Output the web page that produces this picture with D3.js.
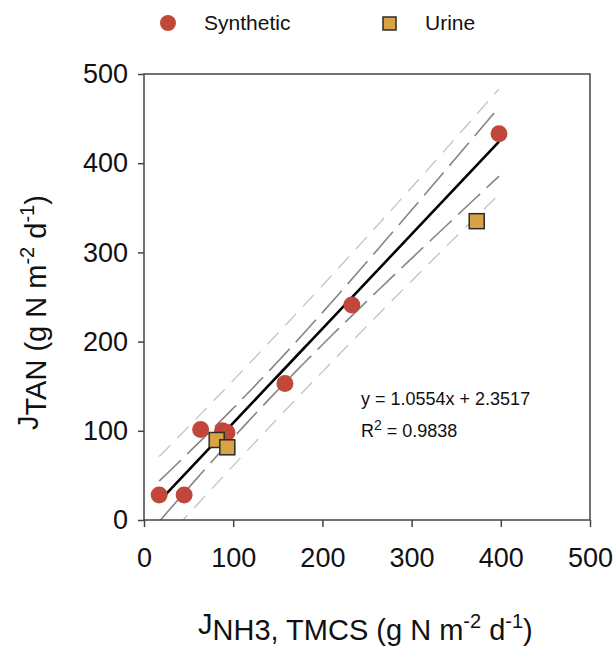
<!DOCTYPE html>
<html>
<head>
<meta charset="utf-8">
<script src="https://cdn.jsdelivr.net/npm/d3@7"></script>
<style>
body { margin: 0; background: #fff; }
text { font-family: "Liberation Sans", Arial, sans-serif; fill: #111; }
</style>
</head>
<body>
<svg id="chart" width="614" height="647"></svg>
<script>
// points
var synX = [17, 45, 63.5, 88, 93, 158, 233, 398]
var synY = [28, 28, 101.5, 100, 98, 153, 241, 433]
var urineX = [81.5, 93.4, 373]
var urineY = [89.7, 81.5, 335]
var tickVals = [0, 100, 200, 300, 400, 500]
var legendNames = ["Synthetic", "Urine"]
var eqLine = "y = 1.0554x + 2.3517"
var r2Value = "0.9838"

// two-sided 95% t values by degrees of freedom
var tTable = {4: 2.776, 5: 2.571, 6: 2.447, 7: 2.365, 8: 2.306, 9: 2.262}

var svg = d3.select("#chart")
var x = d3.scaleLinear().domain([0, 500]).range([144, 590])
var y = d3.scaleLinear().domain([0, 500]).range([520, 74])

// regression on synthetic points only
var n = synX.length
var mx = d3.mean(synX), my = d3.mean(synY)
var sxx = d3.sum(synX, function(v){ return (v - mx) * (v - mx) })
var sxy = d3.sum(synX, function(v, i){ return (v - mx) * (synY[i] - my) })
var slope = sxy / sxx
var icpt = my - slope * mx
var sse = d3.sum(synX, function(v, i){ var r = synY[i] - (icpt + slope * v); return r * r })
var s = Math.sqrt(sse / (n - 2))
var tv = tTable[n - 2]
var x0 = d3.min(synX), x1 = d3.max(synX)

var bandPts = d3.range(0, 41).map(function(k){
	var xv = x0 + (x1 - x0) * k / 40
	var fit = icpt + slope * xv
	var se = Math.sqrt(1 / n + (xv - mx) * (xv - mx) / sxx)
	var sp = Math.sqrt(1 + 1 / n + (xv - mx) * (xv - mx) / sxx)
	return {x: xv, fit: fit, cl: fit - tv * s * se, cu: fit + tv * s * se, pl: fit - tv * s * sp, pu: fit + tv * s * sp}
})

svg.append("clipPath").attr("id", "plotclip")
	.append("rect").attr("x", 144).attr("y", 74).attr("width", 446).attr("height", 446)

var plot = svg.append("g").attr("clip-path", "url(#plotclip)")

function bandLine(key){
	return d3.line().x(function(d){ return x(d.x) }).y(function(d){ return y(d[key]) })
}

plot.selectAll(".pred").data(["pl", "pu"]).enter().append("path")
	.attr("d", function(k){ return bandLine(k)(bandPts) })
	.attr("fill", "none").attr("stroke", "#c4c4c4").attr("stroke-width", 1.3)
	.attr("stroke-dasharray", "16,10")

plot.selectAll(".conf").data(["cl", "cu"]).enter().append("path")
	.attr("d", function(k){ return bandLine(k)(bandPts) })
	.attr("fill", "none").attr("stroke", "#858585").attr("stroke-width", 1.6)
	.attr("stroke-dasharray", "30,9")

plot.append("path")
	.attr("d", bandLine("fit")(bandPts))
	.attr("fill", "none").attr("stroke", "#000").attr("stroke-width", 2.6)

// frame and axes
svg.append("rect").attr("x", 144).attr("y", 74).attr("width", 446).attr("height", 446)
	.attr("fill", "none").attr("stroke", "#444").attr("stroke-width", 1.5)

var xAxis = svg.append("g").attr("transform", "translate(0,520)")
	.call(d3.axisBottom(x).tickValues(tickVals).tickSize(7).tickPadding(21))
var yAxis = svg.append("g").attr("transform", "translate(144,0)")
	.call(d3.axisLeft(y).tickValues(tickVals).tickSize(6).tickPadding(10))
svg.selectAll(".domain").remove()
svg.selectAll(".tick line").attr("stroke", "#444").attr("stroke-width", 1.5)
svg.selectAll(".tick text").attr("font-size", 27).attr("font-family", "Liberation Sans, Arial, sans-serif").attr("fill", "#111")

// points
var synData = synX.map(function(v, i){ return [v, synY[i]] })
var urData = urineX.map(function(v, i){ return [v, urineY[i]] })

svg.selectAll(".syn").data(synData).enter().append("circle")
	.attr("cx", function(d){ return x(d[0]) })
	.attr("cy", function(d){ return y(d[1]) })
	.attr("r", 8.5)
	.attr("fill", "#c1473a")

svg.selectAll(".ur").data(urData).enter().append("rect")
	.attr("x", function(d){ return x(d[0]) - 7.5 })
	.attr("y", function(d){ return y(d[1]) - 7.5 })
	.attr("width", 15).attr("height", 15)
	.attr("fill", "#d9a243").attr("stroke", "#2b2b2b").attr("stroke-width", 1.5)

// legend
svg.append("circle").attr("cx", 168).attr("cy", 23).attr("r", 8).attr("fill", "#c1473a")
svg.append("rect").attr("x", 383).attr("y", 17).attr("width", 13).attr("height", 13)
	.attr("fill", "#d9a243").attr("stroke", "#2b2b2b").attr("stroke-width", 1.5)
svg.append("text").attr("x", 204).attr("y", 30).attr("font-size", 21).text(legendNames[0])
svg.append("text").attr("x", 425).attr("y", 30).attr("font-size", 21).text(legendNames[1])

// equation
svg.append("text").attr("x", 361).attr("y", 405).attr("font-size", 18).text(eqLine)
var r2 = svg.append("text").attr("x", 361).attr("y", 437).attr("font-size", 18)
r2.append("tspan").text("R")
r2.append("tspan").attr("dy", -7).attr("font-size", 14).text("2")
r2.append("tspan").attr("dy", 7).text(" = " + r2Value)

// axis titles
var xt = svg.append("text").attr("x", 198).attr("y", 640).attr("font-size", 29)
xt.append("tspan").attr("dy", -6).text("J")
xt.append("tspan").attr("dy", 6).text("NH3, TMCS (g N m")
xt.append("tspan").attr("dy", -12).attr("font-size", 20).text("-2")
xt.append("tspan").attr("dy", 12).text(" d")
xt.append("tspan").attr("dy", -12).attr("font-size", 20).text("-1")
xt.append("tspan").attr("dy", 12).text(")")

var yt = svg.append("text").attr("transform", "translate(46,430) rotate(-90)").attr("font-size", 29)
yt.append("tspan").attr("dy", -8).text("J")
yt.append("tspan").attr("dy", 8).text("TAN (g N m")
yt.append("tspan").attr("dy", -12).attr("font-size", 20).text("-2")
yt.append("tspan").attr("dy", 12).text(" d")
yt.append("tspan").attr("dy", -12).attr("font-size", 20).text("-1")
yt.append("tspan").attr("dy", 12).text(")")
</script>
</body>
</html>
